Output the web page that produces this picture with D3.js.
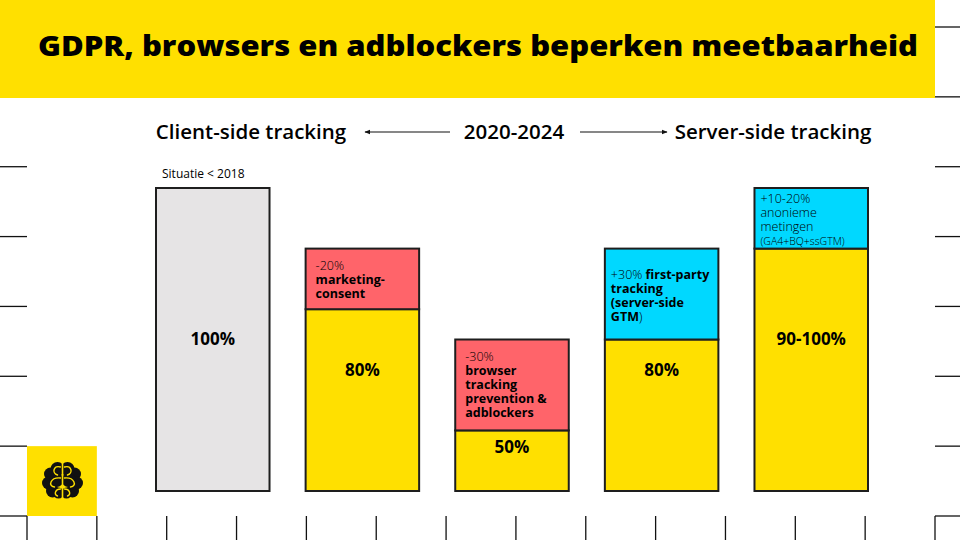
<!DOCTYPE html>
<html>
<head>
<meta charset="utf-8">
<script src="https://cdn.jsdelivr.net/npm/d3@7"></script>
<style>
  body { margin: 0; background: #fff; }
  svg { display: block; font-family: "Open Sans", sans-serif; }
</style>
</head>
<body>
<svg width="960" height="540"></svg>
<script>
// data
var categories = ['Situatie < 2018', 'Marketing-consent', 'Tracking prevention', 'First-party tracking', 'Anonieme metingen'];
var baseValues = [100, 60, 20, 50, 80];   // grijs / geel deel
var deltaValues = [0, 20, 30, 30, 20];    // rood (verlies) of blauw (winst)
var deltaType = ['none', 'loss', 'loss', 'gain', 'gain'];
var barLabels = ['100%', '80%', '50%', '80%', '90-100%'];
var labelAt = [50, 40, 14.5, 40, 50];     // waar het label staat, in % van de schaal
var notes = [
  [],
  [[['-20%', 300]], [['marketing-', 700]], [['consent', 700]]],
  [[['-30%', 300]], [['browser', 700]], [['tracking', 700]], [['prevention &', 700]], [['adblockers', 700]]],
  [[['+30% ', 300], ['first-party', 700]], [['tracking', 700]], [['(server-side', 700]], [['GTM', 700], [')', 300]]],
  [[['+10-20%', 300]], [['anonieme', 300]], [['metingen', 300]], [['(GA4+BQ+ssGTM)', 300, 10.5]]]
];
var headers = ['Client-side tracking', '2020-2024', 'Server-side tracking'];
var title = 'GDPR, browsers en adblockers beperken meetbaarheid';

var colors = { base0: '#e6e4e5', base: '#ffe000', loss: '#ff646a', gain: '#00d8ff' };

var svg = d3.select('svg');
var width = +svg.attr('width');
var height = +svg.attr('height');

// achtergrond raster (kleine streepjes aan de randen)
var gx = d3.scaleLinear().domain([0, 13]).range([27, 935]);
var gy = d3.scaleLinear().domain([0, 7]).range([27, 516]);

svg.append('rect')
    .attr('x', 0).attr('y', 0)
    .attr('width', gx(13)).attr('height', 98)
    .attr('fill', colors.base);

var ticks = svg.append('g').attr('stroke', '#111').attr('stroke-width', 1.3);
ticks.selectAll('.rt').data(d3.range(8)).enter().append('line')
    .attr('x1', gx(13)).attr('x2', width)
    .attr('y1', function(d){ return gy(d); }).attr('y2', function(d){ return gy(d); });
ticks.selectAll('.lt').data(d3.range(2, 8)).enter().append('line')
    .attr('x1', 0).attr('x2', gx(0))
    .attr('y1', function(d){ return gy(d); }).attr('y2', function(d){ return gy(d); });
ticks.selectAll('.bt').data(d3.range(14)).enter().append('line')
    .attr('x1', function(d){ return gx(d); }).attr('x2', function(d){ return gx(d); })
    .attr('y1', gy(7)).attr('y2', height);

// titel
svg.append('text')
    .attr('x', 478).attr('y', 56)
    .attr('text-anchor', 'middle')
    .attr('textLength', 880).attr('lengthAdjust', 'spacingAndGlyphs')
    .style('font-size', '29px').style('font-weight', 800)
    .text(title);

// kopregel met pijlen
var headX = [251, 514, 773];
svg.selectAll('.head').data(headers).enter().append('text')
    .attr('x', function(d, i){ return headX[i]; })
    .attr('y', 139)
    .attr('text-anchor', 'middle')
    .style('font-size', '20.5px').style('font-weight', 600)
    .text(function(d){ return d; });

var defs = svg.append('defs');
defs.append('marker')
    .attr('id', 'arrow').attr('viewBox', '0 0 10 10')
    .attr('refX', 9).attr('refY', 5)
    .attr('markerWidth', 5).attr('markerHeight', 5)
    .attr('orient', 'auto')
  .append('path').attr('d', 'M0,1L10,5L0,9Z').attr('fill', '#111');

svg.append('line').attr('x1', 450).attr('x2', 365).attr('y1', 132).attr('y2', 132)
    .attr('stroke', '#111').attr('stroke-width', 1.2).attr('marker-end', 'url(#arrow)');
svg.append('line').attr('x1', 580).attr('x2', 667).attr('y1', 132).attr('y2', 132)
    .attr('stroke', '#111').attr('stroke-width', 1.2).attr('marker-end', 'url(#arrow)');

// schalen
var x = d3.scaleBand().domain(categories).range([156, 868]).paddingInner(0.2413).paddingOuter(0);
var y = d3.scaleLinear().domain([0, 100]).range([491, 188]);

var bars = svg.selectAll('.bar').data(categories).enter().append('g').attr('class', 'bar');

// onderste deel
bars.append('rect')
    .attr('x', function(d){ return x(d); })
    .attr('y', function(d, i){ return y(baseValues[i]); })
    .attr('width', x.bandwidth())
    .attr('height', function(d, i){ return y(0) - y(baseValues[i]); })
    .attr('fill', function(d, i){ return i === 0 ? colors.base0 : colors.base; })
    .attr('stroke', '#1e1e1e').attr('stroke-width', 2);

// bovenste deel (verlies of winst)
bars.filter(function(d, i){ return deltaValues[i] > 0; }).append('rect')
    .attr('x', function(d){ return x(d); })
    .attr('y', function(d){ var i = categories.indexOf(d); return y(baseValues[i] + deltaValues[i]); })
    .attr('width', x.bandwidth())
    .attr('height', function(d){ var i = categories.indexOf(d); return y(baseValues[i]) - y(baseValues[i] + deltaValues[i]); })
    .attr('fill', function(d){ return colors[deltaType[categories.indexOf(d)]]; })
    .attr('stroke', '#1e1e1e').attr('stroke-width', 2);

// percentage labels
bars.append('text')
    .attr('x', function(d){ return x(d) + x.bandwidth() / 2; })
    .attr('y', function(d, i){ return y(labelAt[i]); })
    .attr('dy', '0.35em')
    .attr('text-anchor', 'middle')
    .style('font-size', '17px').style('font-weight', 700)
    .text(function(d, i){ return barLabels[i]; });

// toelichting in de gekleurde delen
var notePad = [0, 10, 10, 6, 6];
var noteTop = [0, 21, 21, 30, 15];   // eerste basislijn onder de bovenkant
bars.each(function(d, i){
  if (!notes[i].length) return;
  var left = x(d) + notePad[i];
  var t = d3.select(this).append('text')
      .attr('x', left)
      .attr('y', y(baseValues[i] + deltaValues[i]) + noteTop[i])
      .style('font-size', '12.5px');
  notes[i].forEach(function(line, j){
    var row = t.append('tspan').attr('x', left).attr('dy', j === 0 ? 0 : 14);
    line.forEach(function(part){
      row.append('tspan')
          .style('font-weight', part[1])
          .style('font-size', (part[2] || 12.5) + 'px')
          .text(part[0]);
    });
  });
});

// label boven de eerste staaf
svg.append('text')
    .attr('x', x(categories[0]) + 6).attr('y', 178)
    .style('font-size', '12px').style('font-weight', 400)
    .text(categories[0]);

// logo met brein
var logo = svg.append('g');
logo.append('rect')
    .attr('x', gx(0)).attr('y', gy(6))
    .attr('width', gx(1) - gx(0)).attr('height', gy(7) - gy(6))
    .attr('fill', colors.base);

var brain = logo.append('g').attr('transform', 'translate(62.5,480)');
[-1, 1].forEach(function(s){
  var lobes = [[5, -11, 7], [12, -6, 6.5], [14, 3, 6.5], [10, 11, 6.5], [4, 13, 5.5], [6, 0, 7]];
  brain.selectAll(null).data(lobes).enter().append('circle')
      .attr('cx', function(c){ return s * c[0]; })
      .attr('cy', function(c){ return c[1]; })
      .attr('r', function(c){ return c[2]; })
      .attr('fill', '#111');
  var curls = [
    'M' + (s*2) + ',-13 C' + (s*9) + ',-15 ' + (s*11) + ',-7 ' + (s*5) + ',-5',
    'M' + (s*2) + ',-2 C' + (s*12) + ',-3 ' + (s*15) + ',6 ' + (s*8) + ',7',
    'M' + (s*2) + ',9 C' + (s*7) + ',9 ' + (s*9) + ',14 ' + (s*5) + ',16'
  ];
  brain.selectAll(null).data(curls).enter().append('path')
      .attr('d', function(p){ return p; })
      .attr('fill', 'none').attr('stroke', colors.base).attr('stroke-width', 1.4)
      .attr('stroke-linecap', 'round');
});
brain.append('line').attr('x1', 0).attr('x2', 0).attr('y1', -19).attr('y2', 19)
    .attr('stroke', colors.base).attr('stroke-width', 1.6);
</script>
</body>
</html>
